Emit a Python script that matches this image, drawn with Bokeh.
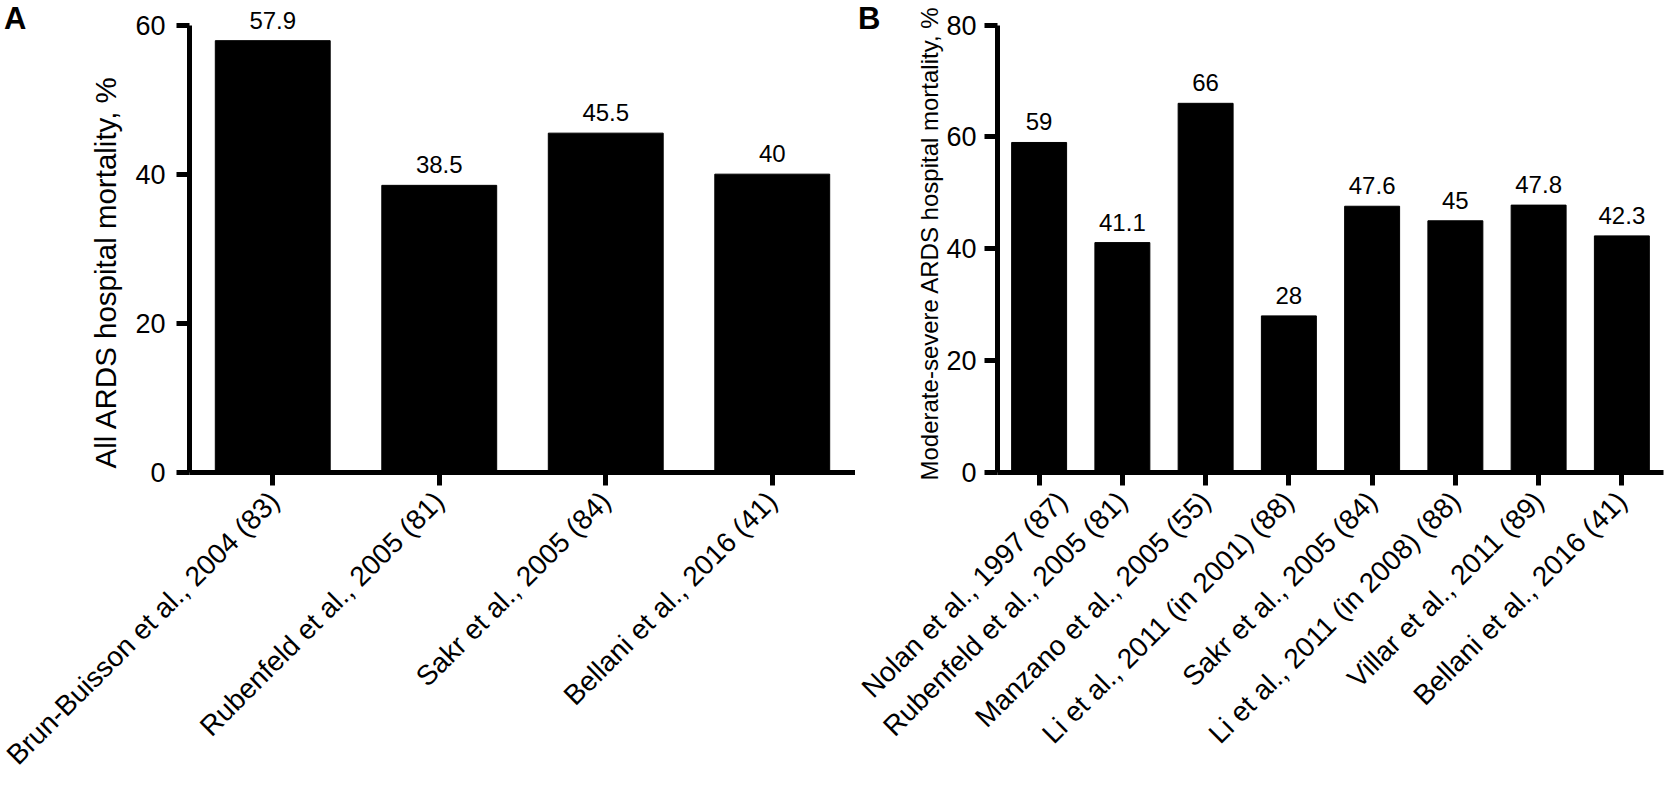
import math
from bokeh.plotting import figure
from bokeh.models import (ColumnDataSource, LabelSet, FixedTicker, Range1d,
                          FactorRange, LinearAxis, Title)
from bokeh.layouts import row
from bokeh.core.properties import value
from bokeh.embed import file_html
from bokeh.resources import INLINE

FONT = "Liberation Sans"

# ---- data ----
studies_a = [
    "Brun-Buisson et al., 2004 (83)",
    "Rubenfeld et al., 2005 (81)",
    "Sakr et al., 2005 (84)",
    "Bellani et al., 2016 (41)",
]
mortality_a = [57.9, 38.5, 45.5, 40]
yticks_a = [0, 20, 40, 60]

studies_b = [
    "Nolan et al., 1997 (87)",
    "Rubenfeld et al., 2005 (81)",
    "Manzano et al., 2005 (55)",
    "Li et al., 2011 (in 2001) (88)",
    "Sakr et al., 2005 (84)",
    "Li et al., 2011 (in 2008) (88)",
    "Villar et al., 2011 (89)",
    "Bellani et al., 2016 (41)",
]
mortality_b = [59, 41.1, 66, 28, 47.6, 45, 47.8, 42.3]
yticks_b = [0, 20, 40, 60, 80]

H = 787
TOP = 8          # frame top (px)
ZERO = 472       # y of value 0 (px)
AXIS_TOP = 24.5  # y of the top tick (px)


def make_panel(cats, vals, ticks, ylabel, ylabel_size, ylabel_offset,
               bar_width, width, border_left, border_right, letter,
               letter_standoff, label_standoff, title_standoff):
    top = ticks[-1]
    scale = (ZERO - AXIS_TOP) / top
    y_end = (ZERO - TOP) / scale
    letter_pos = round((ZERO - 17) / scale, 3)

    p = figure(
        x_range=FactorRange(*cats),
        y_range=Range1d(0, y_end),
        width=width, height=H,
        output_backend="svg", toolbar_location=None,
        min_border_left=border_left, min_border_right=border_right,
        min_border_top=TOP, min_border_bottom=H - ZERO,
    )
    p.outline_line_color = None
    p.xgrid.grid_line_color = None
    p.ygrid.grid_line_color = None
    p.background_fill_color = "white"
    p.border_fill_color = "white"

    src = ColumnDataSource(dict(cat=cats, val=vals,
                                lab=[f"{v:g}" for v in vals]))
    p.vbar(x="cat", top="val", width=bar_width, source=src,
           fill_color="black", line_color="black")

    p.add_layout(LabelSet(x="cat", y="val", text="lab", source=src,
                          text_align="center", text_baseline="alphabetic",
                          y_offset=12, text_font=value(FONT),
                          text_font_size="24px", text_color="black"))

    for ax in (p.xaxis[0], p.yaxis[0]):
        ax.axis_line_width = 5
        ax.axis_line_color = "black"
        ax.major_tick_line_width = 5
        ax.major_tick_line_color = "black"
        ax.major_tick_out = 13
        ax.major_tick_in = 0
        ax.minor_tick_line_color = None
        ax.major_label_text_font = FONT
        ax.major_label_text_font_size = "27px"
        ax.major_label_text_color = "black"

    p.yaxis.ticker = FixedTicker(ticks=ticks)
    p.yaxis.bounds = (0, top)
    p.yaxis.major_label_standoff = label_standoff

    p.xaxis.major_label_orientation = math.pi / 4
    p.xaxis.major_label_standoff = 11
    p.xaxis.major_label_text_font_size = "28px"

    # y-axis title on the left side, starting near the bottom of the frame
    p.add_layout(Title(text=ylabel, align="left", vertical_align="middle",
                       offset=ylabel_offset, standoff=title_standoff,
                       text_font=FONT, text_font_size=ylabel_size,
                       text_font_style="normal", text_color="black"), "left")

    # panel letter, as the only label of an extra, invisible left axis
    letter_axis = LinearAxis(ticker=FixedTicker(ticks=[letter_pos]),
                             major_label_overrides={letter_pos: letter},
                             axis_line_color=None, major_tick_line_color=None,
                             minor_tick_line_color=None,
                             major_tick_out=0, major_tick_in=0,
                             major_label_standoff=letter_standoff,
                             major_label_text_font=FONT,
                             major_label_text_font_size="31px",
                             major_label_text_font_style="bold",
                             major_label_text_color="black")
    p.add_layout(letter_axis, "left")
    return p


pa = make_panel(studies_a, mortality_a, yticks_a,
                "All ARDS hospital mortality, %", "29.5px", 4, 0.69,
                855, 189, 0, "A", 51, 11, 20)
pb = make_panel(studies_b, mortality_b, yticks_b,
                "Moderate-severe ARDS hospital mortality, %", "24px", -8, 0.66,
                812, 138, 4, "B", 34, 8, 0)

layout = row(pa, pb)
open("out.html", "w").write(file_html(layout, INLINE))
